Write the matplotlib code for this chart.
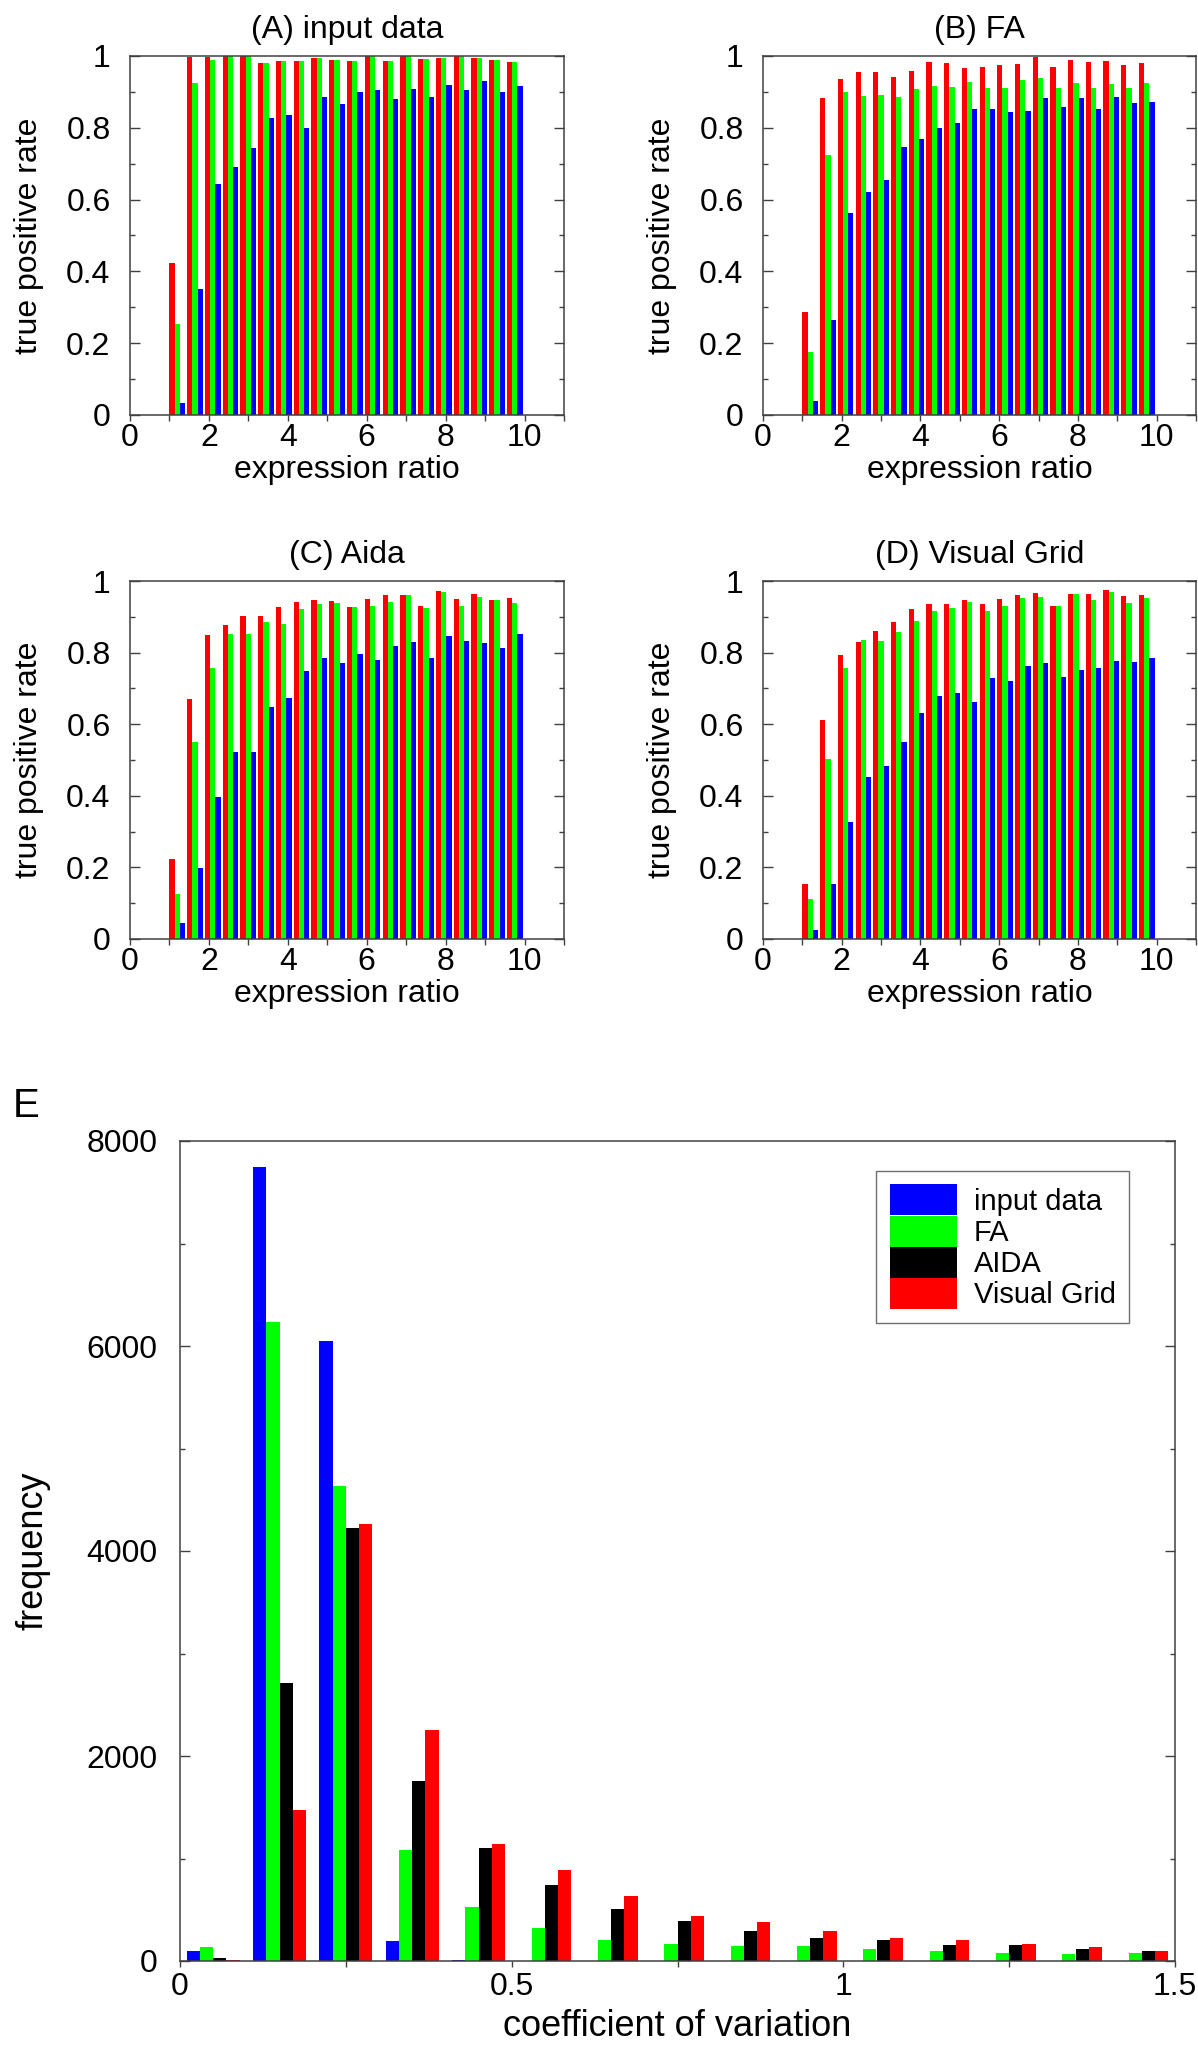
import matplotlib
matplotlib.use("Agg")
import matplotlib.pyplot as plt
from matplotlib.patches import Patch
from matplotlib.ticker import MultipleLocator, FuncFormatter

plt.rcParams['font.family'] = ['Liberation Sans', 'DejaVu Sans']

# left edges of the expression ratio bins (panels A-D)
ratio_bins = [1.0, 1.45, 1.9, 2.35, 2.8, 3.25, 3.7, 4.15, 4.6, 5.05,
              5.5, 5.95, 6.4, 6.85, 7.3, 7.75, 8.2, 8.65, 9.1, 9.55]

# (A) input data
a_red = [0.423, 0.996, 0.996, 1.0, 1.0, 0.981, 0.987, 0.987, 0.995, 0.989,
         0.987, 1.0, 0.986, 1.0, 0.992, 0.995, 1.0, 0.995, 0.989, 0.984]
a_green = [0.253, 0.924, 0.99, 1.0, 1.0, 0.98, 0.987, 0.987, 0.995, 0.989,
           0.987, 1.0, 0.985, 1.0, 0.992, 0.995, 1.0, 0.995, 0.989, 0.984]
a_blue = [0.033, 0.35, 0.643, 0.69, 0.744, 0.827, 0.836, 0.80, 0.886, 0.866,
          0.899, 0.905, 0.879, 0.908, 0.886, 0.919, 0.906, 0.93, 0.899, 0.916]

# (B) FA
b_red = [0.286, 0.884, 0.936, 0.956, 0.955, 0.941, 0.958, 0.984, 0.98, 0.967,
         0.97, 0.975, 0.978, 0.996, 0.97, 0.99, 0.983, 0.986, 0.975, 0.98]
b_green = [0.175, 0.724, 0.9, 0.889, 0.891, 0.886, 0.907, 0.916, 0.913, 0.927,
           0.91, 0.91, 0.932, 0.939, 0.91, 0.924, 0.91, 0.921, 0.91, 0.926]
b_blue = [0.039, 0.265, 0.562, 0.622, 0.655, 0.746, 0.769, 0.80, 0.814, 0.852,
          0.852, 0.845, 0.847, 0.882, 0.858, 0.884, 0.852, 0.885, 0.868, 0.872]

# (C) Aida
c_red = [0.223, 0.67, 0.848, 0.878, 0.901, 0.901, 0.927, 0.94, 0.946, 0.943,
         0.927, 0.951, 0.96, 0.96, 0.929, 0.973, 0.951, 0.965, 0.948, 0.953]
c_green = [0.126, 0.551, 0.757, 0.851, 0.852, 0.885, 0.88, 0.921, 0.935, 0.938,
           0.927, 0.93, 0.941, 0.96, 0.924, 0.969, 0.929, 0.955, 0.946, 0.938]
c_blue = [0.046, 0.198, 0.396, 0.522, 0.522, 0.647, 0.672, 0.75, 0.786, 0.77,
          0.796, 0.779, 0.818, 0.829, 0.786, 0.846, 0.832, 0.826, 0.812, 0.853]

# (D) Visual Grid
d_red = [0.153, 0.611, 0.792, 0.829, 0.86, 0.885, 0.921, 0.937, 0.937, 0.948,
         0.937, 0.951, 0.96, 0.967, 0.929, 0.965, 0.963, 0.974, 0.957, 0.96]
d_green = [0.113, 0.504, 0.756, 0.835, 0.832, 0.857, 0.888, 0.915, 0.924, 0.941,
           0.915, 0.93, 0.952, 0.955, 0.929, 0.965, 0.946, 0.969, 0.938, 0.953]
d_blue = [0.026, 0.155, 0.326, 0.453, 0.483, 0.55, 0.63, 0.678, 0.687, 0.662,
          0.729, 0.722, 0.763, 0.772, 0.732, 0.751, 0.757, 0.777, 0.773, 0.786]

# (E) histogram of coefficient of variation
cv_bins = [0.0, 0.1, 0.2, 0.3, 0.4, 0.5, 0.6, 0.7, 0.8, 0.9, 1.0, 1.1, 1.2, 1.3, 1.4]
input_data = [94, 7750, 6050, 195, 5, 3, 3, 3, 3, 3, 3, 3, 3, 3, 3]
fa = [133, 6230, 4630, 1083, 527, 322, 205, 166, 150, 143, 117, 98, 81, 68, 78]
aida = [33, 2715, 4225, 1753, 1099, 738, 504, 387, 296, 224, 202, 153, 153, 120, 94]
visual_grid = [13, 1470, 4260, 2250, 1141, 884, 634, 442, 384, 289, 221, 205, 163, 133, 94]

RED = '#ff0000'
GREEN = '#00ff00'
BLUE = '#0000ff'
SPINE = '#404040'
FS = 23

W, H = 1198, 2055
fig = plt.figure(figsize=(W / 100, H / 100), dpi=100)


def rect(x0, y0, x1, y1):
    # pixel box -> figure fraction
    return [x0 / W, 1 - y1 / H, (x1 - x0) / W, (y1 - y0) / H]


def style_axes(ax):
    for s in ax.spines.values():
        s.set_color(SPINE)
        s.set_linewidth(1.1)
    ax.tick_params(axis='y', which='both', direction='in', left=True, right=True,
                   color=SPINE, labelsize=FS, pad=14)
    ax.tick_params(axis='y', which='major', length=7, width=1)
    ax.tick_params(axis='y', which='minor', length=3.5, width=1)
    ax.tick_params(axis='x', which='both', direction='out', bottom=True, top=False,
                   color=SPINE, length=4, width=1, labelsize=FS, pad=2)


def tpr_panel(box, title, red, green, blue):
    ax = fig.add_axes(rect(*box))
    w = 0.133
    for k, (vals, col) in enumerate([(red, RED), (green, GREEN), (blue, BLUE)]):
        ax.bar([b + k * w for b in ratio_bins], vals, width=w, align='edge',
               color=col, linewidth=0)
    ax.set_xlim(0, 11)
    ax.set_ylim(0, 1)
    ax.xaxis.set_major_locator(MultipleLocator(2))
    ax.xaxis.set_minor_locator(MultipleLocator(1))
    ax.yaxis.set_major_locator(MultipleLocator(0.2))
    ax.yaxis.set_minor_locator(MultipleLocator(0.1))
    ax.yaxis.set_major_formatter(FuncFormatter(lambda v, p: '%g' % round(v, 2)))
    style_axes(ax)
    ax.set_title(title, fontsize=FS, pad=13)
    ax.set_xlabel('expression ratio', fontsize=FS, labelpad=1)
    ax.set_ylabel('true positive rate', fontsize=FS, labelpad=16)
    return ax


tpr_panel((130, 56, 564, 415), '(A) input data', a_red, a_green, a_blue)
tpr_panel((763, 56, 1196, 415), '(B) FA', b_red, b_green, b_blue)
tpr_panel((130, 581, 564, 939), '(C) Aida', c_red, c_green, c_blue)
tpr_panel((763, 581, 1196, 939), '(D) Visual Grid', d_red, d_green, d_blue)

# panel E
ax = fig.add_axes(rect(180, 1141, 1175, 1961))
bw = 0.02
series = [(input_data, BLUE, 'input data'), (fa, GREEN, 'FA'),
          (aida, 'black', 'AIDA'), (visual_grid, RED, 'Visual Grid')]
for k, (vals, col, lab) in enumerate(series):
    ax.bar([b + 0.01 + k * bw for b in cv_bins], vals, width=bw, align='edge',
           color=col, linewidth=0)
ax.set_xlim(0, 1.5)
ax.set_ylim(0, 8000)
ax.xaxis.set_major_locator(MultipleLocator(0.5))
ax.xaxis.set_minor_locator(MultipleLocator(0.25))
ax.xaxis.set_major_formatter(FuncFormatter(lambda v, p: '%g' % v))
ax.yaxis.set_major_locator(MultipleLocator(2000))
ax.yaxis.set_minor_locator(MultipleLocator(1000))
style_axes(ax)
ax.tick_params(axis='y', pad=16)
ax.tick_params(axis='x', pad=4)
ax.set_xlabel('coefficient of variation', fontsize=26, labelpad=5)
ax.set_ylabel('frequency', fontsize=26, labelpad=26)

handles = [Patch(facecolor=col, edgecolor='none', label=lab) for vals, col, lab in series]
leg = ax.legend(handles=handles, loc='upper right', bbox_to_anchor=(0.954, 0.963),
                fontsize=21, frameon=True, fancybox=False, framealpha=1,
                edgecolor='#707070', labelspacing=0, handlelength=2.3,
                handleheight=1.25, handletextpad=0.6, borderpad=0.45,
                borderaxespad=0)
leg.get_frame().set_linewidth(1)

fig.text(13 / W, 1 - 1117 / H, 'E', fontsize=29, va='baseline', ha='left')

fig.savefig('out.png', dpi=100)
